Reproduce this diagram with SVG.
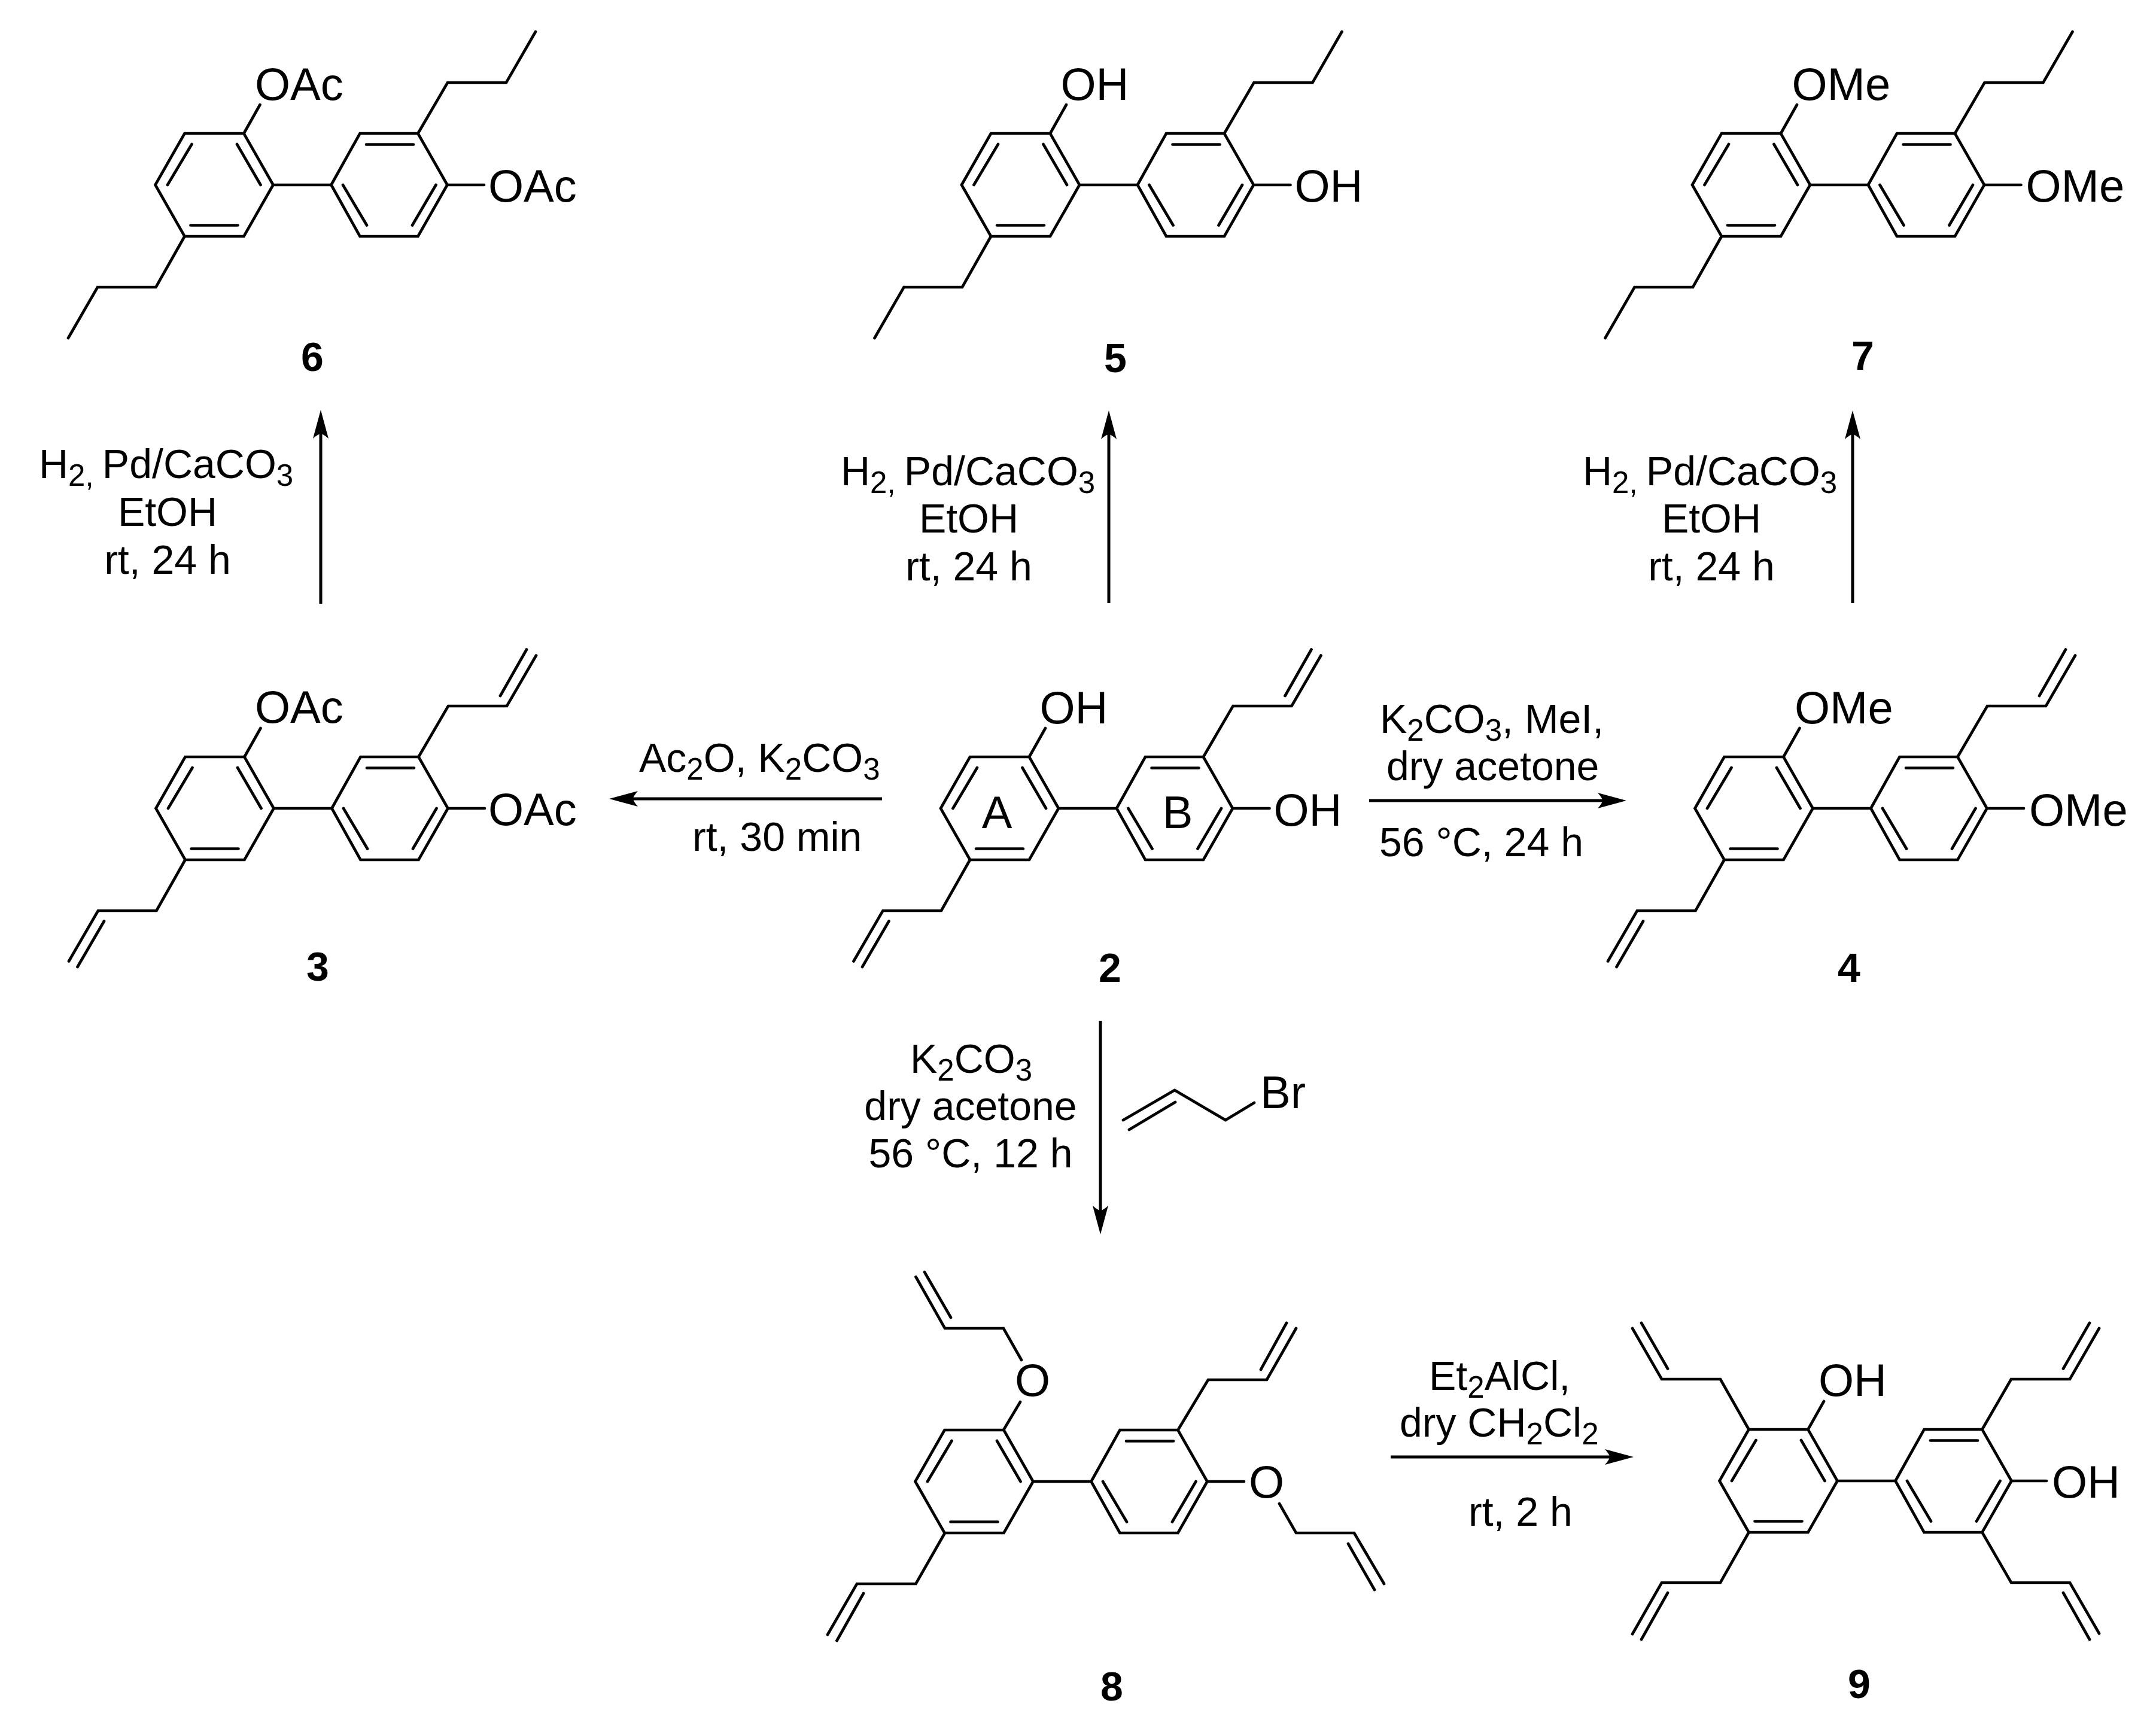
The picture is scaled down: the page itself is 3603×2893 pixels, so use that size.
<svg xmlns="http://www.w3.org/2000/svg" width="3603" height="2893" viewBox="0 0 3603 2893">
<style>
text{font-family:"Liberation Sans",Arial,sans-serif;fill:#000}
.b{fill:none;stroke:#000;stroke-width:4.7;stroke-linecap:round;stroke-linejoin:miter}
.atom{font-size:76px}
.r{font-size:68px}
.m{text-anchor:middle}
.s{font-size:51px}
.n{font-size:68px;font-weight:bold;text-anchor:middle}
.a{fill:none;stroke:#000;stroke-width:5}
</style>
<defs>
<marker id="head" markerUnits="userSpaceOnUse" markerWidth="60" markerHeight="40" viewBox="0 -20 60 40" refX="8" refY="0" orient="auto">
<path d="M0,-13 Q8,-4 8,0 Q8,4 0,13 L48,0 Z" fill="#000"/>
</marker>
<g id="core" class="b">
<path d="M49.5,-86 H-49.5 L-98.5,0 L-49.5,86 H49.5 L98.5,0 Z"/>
<path d="M98.5,0 H195.5"/>
<path d="M195.5,0 L243.5,-86 H340.5 L389.5,0 L340.5,86 H243.5 Z"/>
<path d="M38,-68 L77.5,0 M-37.5,-68 L-78,0 M-39.5,67.5 H39.5 M254,-67.5 H333 M215,0 L255,67.5 M370.5,0 L331,67.5"/>
</g>
<path id="allyl" class="b" d="M340.5,-86 L390,-171 H488 L537,-255.5 M477,-188 L521,-265.5 M-49.5,86 L-97.5,171 H-195 L-244,255.5 M-185,188.5 L-229.5,265"/>
<path id="propyl" class="b" d="M340.5,-86 L390,-171 H488 L537,-256 M-49.5,86 L-97.5,171 H-195 L-244,256"/>
<path id="obonds" class="b" d="M49.5,-86 L76.5,-134 M389.5,0 H451"/>
</defs>
<rect width="3603" height="2893" fill="#fff"/>

<g id="compound-6">
<g transform="translate(358,309)"><use href="#core"/><use href="#propyl"/><use href="#obonds"/></g>
<text class="atom" x="426" y="167">OAc</text>
<text class="atom" x="816" y="337">OAc</text>
<text class="n" x="522" y="620">6</text>
</g>

<g id="compound-5">
<g transform="translate(1705.5,309)"><use href="#core"/><use href="#propyl"/><use href="#obonds"/></g>
<text class="atom" x="1772.5" y="167">OH</text>
<text class="atom" x="2163.5" y="337">OH</text>
<text class="n" x="1864" y="622">5</text>
</g>

<g id="compound-7">
<g transform="translate(2926.5,309)"><use href="#core"/><use href="#propyl"/><use href="#obonds"/></g>
<text class="atom" x="2994.5" y="167">OMe</text>
<text class="atom" x="3385.5" y="337">OMe</text>
<text class="n" x="3113" y="618">7</text>
</g>

<g id="compound-3">
<g transform="translate(359,1351)"><use href="#core"/><use href="#allyl"/><use href="#obonds"/></g>
<text class="atom" x="426" y="1208">OAc</text>
<text class="atom" x="816" y="1379">OAc</text>
<text class="n" x="531" y="1639">3</text>
</g>

<g id="compound-2">
<g transform="translate(1670.5,1351)"><use href="#core"/><use href="#allyl"/><use href="#obonds"/></g>
<text class="atom" x="1737.5" y="1209">OH</text>
<text class="atom" x="2128.5" y="1380">OH</text>
<text class="atom m" x="1666" y="1384">A</text>
<text class="atom m" x="1968" y="1384">B</text>
<text class="n" x="1855" y="1641">2</text>
</g>

<g id="compound-4">
<g transform="translate(2931,1351)"><use href="#core"/><use href="#allyl"/><use href="#obonds"/></g>
<text class="atom" x="2999" y="1209">OMe</text>
<text class="atom" x="3391" y="1380">OMe</text>
<text class="n" x="3090" y="1641">4</text>
</g>

<g id="allyl-bromide">
<path class="b" d="M1877,1872 L1963,1822 L2048,1872 L2096,1843 M1887,1888 L1964,1842"/>
<text class="atom" x="2106" y="1852">Br</text>
</g>

<g id="compound-8">
<use href="#core" transform="translate(1628,2476)"/>
<path class="b" d="M1677,2390 L1705,2343 M1707,2273 L1677,2220 H1579 L1530.5,2134 M1589,2202 L1545,2126 M2019,2476 H2079 M2138,2513 L2166,2562 H2263 L2313,2647 M2253,2580 L2297,2657 M1968.5,2390 L2019,2306 H2117 L2166,2220 M2107,2289 L2150,2211 M1579,2562 L1530.5,2647 H1432 L1383,2732 M1443,2663 L1398.5,2742"/>
<text class="atom" x="1696" y="2333">O</text>
<text class="atom" x="2087" y="2503">O</text>
<text class="n" x="1858" y="2842">8</text>
</g>

<g id="compound-9">
<use href="#core" transform="translate(2972,2475)"/>
<path class="b" d="M3021.5,2389 L3048,2342 M2922.5,2389 L2875,2305 H2777 L2728,2220 M2787,2287.5 L2743,2211 M3361.5,2475 H3420 M3312.5,2389 L3361,2305 H3459 L3508,2220 M3448,2287.5 L3492,2211 M2922.5,2561 L2875,2645 H2777 L2728,2731 M2787,2662 L2743,2740 M3312.5,2561 L3361,2645 H3459 L3508,2730 M3448,2662 L3492,2740"/>
<text class="atom" x="3039" y="2333">OH</text>
<text class="atom" x="3429" y="2503">OH</text>
<text class="n" x="3107" y="2838">9</text>
</g>

<g id="connectors">
<path class="a" marker-end="url(#head)" d="M536,1009 V725"/>
<path class="a" marker-end="url(#head)" d="M1853,1008 V726"/>
<path class="a" marker-end="url(#head)" d="M3096,1008 V726"/>
<path class="a" marker-end="url(#head)" d="M1474,1335 H1058"/>
<path class="a" marker-end="url(#head)" d="M2288,1338 H2678"/>
<path class="a" marker-end="url(#head)" d="M1839,1706 V2023"/>
<path class="a" marker-end="url(#head)" d="M2324,2435 H2690"/>
</g>

<g id="reagents">
<text class="r" x="65" y="799">H<tspan class="s" dy="13">2, </tspan><tspan dy="-13">Pd/CaCO</tspan><tspan class="s" dy="13">3</tspan></text>
<text class="r m" x="280" y="879">EtOH</text>
<text class="r m" x="280" y="959">rt, 24 h</text>
<text class="r" x="1405" y="811">H<tspan class="s" dy="13">2, </tspan><tspan dy="-13">Pd/CaCO</tspan><tspan class="s" dy="13">3</tspan></text>
<text class="r m" x="1619" y="890">EtOH</text>
<text class="r m" x="1619" y="970">rt, 24 h</text>
<text class="r" x="2645" y="811">H<tspan class="s" dy="13">2, </tspan><tspan dy="-13">Pd/CaCO</tspan><tspan class="s" dy="13">3</tspan></text>
<text class="r m" x="2860" y="890">EtOH</text>
<text class="r m" x="2860" y="970">rt, 24 h</text>
<text class="r" x="1068" y="1290">Ac<tspan class="s" dy="13">2</tspan><tspan dy="-13">O, K</tspan><tspan class="s" dy="13">2</tspan><tspan dy="-13">CO</tspan><tspan class="s" dy="13">3</tspan></text>
<text class="r" x="1157" y="1422">rt, 30 min</text>
<text class="r" x="2306" y="1225">K<tspan class="s" dy="13">2</tspan><tspan dy="-13">CO</tspan><tspan class="s" dy="13">3</tspan><tspan dy="-13">, MeI,</tspan></text>
<text class="r" x="2317" y="1304">dry acetone</text>
<text class="r" x="2305" y="1431">56 °C, 24 h</text>
<text class="r m" x="1623" y="1793">K<tspan class="s" dy="13">2</tspan><tspan dy="-13">CO</tspan><tspan class="s" dy="13">3</tspan></text>
<text class="r m" x="1622" y="1872">dry acetone</text>
<text class="r m" x="1622" y="1951">56 °C, 12 h</text>
<text class="r" x="2388" y="2323">Et<tspan class="s" dy="13">2</tspan><tspan dy="-13">AlCl,</tspan></text>
<text class="r" x="2339" y="2401">dry CH<tspan class="s" dy="13">2</tspan><tspan dy="-13">Cl</tspan><tspan class="s" dy="13">2</tspan></text>
<text class="r" x="2454" y="2550">rt, 2 h</text>
</g>
</svg>
